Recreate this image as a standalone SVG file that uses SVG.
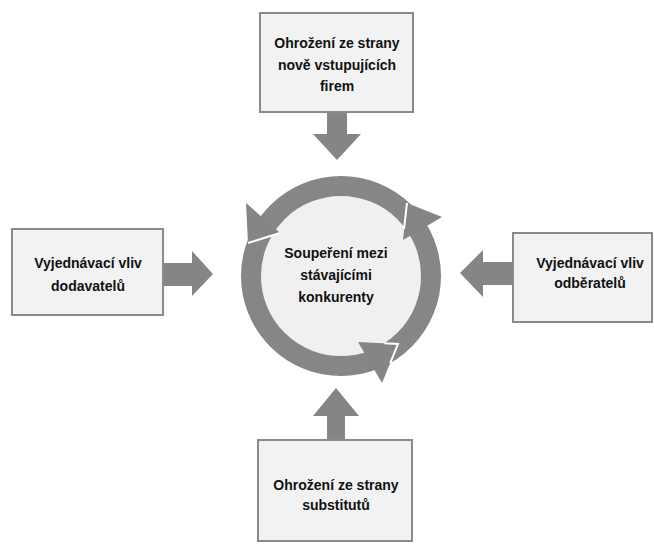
<svg xmlns="http://www.w3.org/2000/svg" width="654" height="547" viewBox="0 0 654 547">
<style>
.box{fill:#f2f2f2;stroke:#8a8a8a;stroke-width:2}
.arr{fill:#858585}
.t{font-family:"Liberation Sans",Arial,sans-serif;font-weight:bold;font-size:14px;fill:#111;text-anchor:middle}
.sep{fill:none;stroke:#ffffff;stroke-width:2;stroke-linejoin:miter}
</style>
<rect width="654" height="547" fill="#ffffff"/>
<g id="connectors">
<polygon class="arr" points="327,111 347,111 347,134 361,134 337,160 313,134 327,134"/>
<polygon class="arr" points="164,263 192,263 192,251 213,274 192,296 192,286 164,286"/>
<polygon class="arr" points="513,262 483,262 483,250 460,273 483,297 483,285 513,285"/>
<polygon class="arr" points="327,441 345,441 345,416 359,416 336,388 313,416 327,416"/>
</g>
<g id="top">
<rect class="box" x="260" y="13" width="153" height="99"/>
<text class="t" x="337" y="48">Ohrožení ze strany</text>
<text class="t" x="337" y="70">nově vstupujících</text>
<text class="t" x="337" y="91">firem</text>
</g>
<g id="left">
<rect class="box" x="12" y="229" width="151" height="86"/>
<text class="t" x="88" y="268">Vyjednávací vliv</text>
<text class="t" x="88" y="291">dodavatelů</text>
</g>
<g id="right">
<rect class="box" x="513" y="233" width="139" height="89"/>
<text class="t" x="590" y="268">Vyjednávací vliv</text>
<text class="t" x="590" y="288">odběratelů</text>
</g>
<g id="bottom">
<rect class="box" x="258" y="440" width="154" height="101"/>
<text class="t" x="336" y="490">Ohrožení ze strany</text>
<text class="t" x="336" y="510">substitutů</text>
</g>
<g id="center">
<circle cx="341" cy="276" r="80" fill="#f0f0f0"/>
<circle cx="341" cy="276" r="90" fill="none" stroke="#868686" stroke-width="20"/>
<polygon class="arr" points="246,203 248,243 280,233"/>
<polygon class="arr" points="407,203 442,217 403,240"/>
<polygon class="arr" points="358,342 398,344 382,383"/>
<polyline class="sep" points="280,233 248,243"/>
<polyline class="sep" points="407,203 404,229"/>
<polyline class="sep" points="390.2,363.1 398,344 384.2,343.3"/>
<text class="t" x="336" y="258">Soupeření mezi</text>
<text class="t" x="336" y="280">stávajícími</text>
<text class="t" x="336" y="302">konkurenty</text>
</g>
</svg>
